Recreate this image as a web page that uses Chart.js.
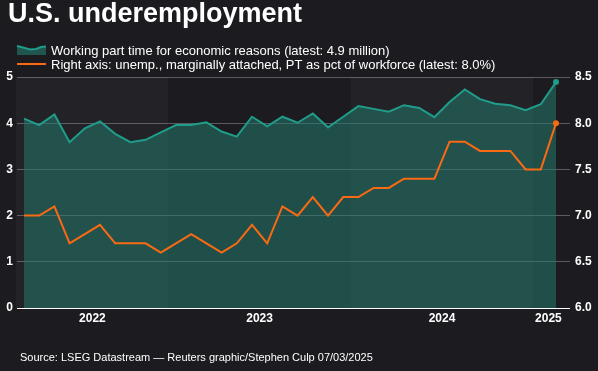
<!DOCTYPE html>
<html>
<head>
<meta charset="utf-8">
<script src="https://cdn.jsdelivr.net/npm/chart.js@4/dist/chart.umd.min.js"></script>
<style>
html,body{margin:0;padding:0;background:#1c1b20;}
#wrap{width:598px;height:371px;position:relative;}
canvas{display:block;}
</style>
</head>
<body>
<div id="wrap"><canvas id="c" width="598" height="371"></canvas></div>
<script>
// ---- data ----
const months = [
  'Mar 2022','Apr 2022','May 2022','Jun 2022','Jul 2022','Aug 2022','Sep 2022','Oct 2022','Nov 2022','Dec 2022',
  'Jan 2023','Feb 2023','Mar 2023','Apr 2023','May 2023','Jun 2023','Jul 2023','Aug 2023','Sep 2023','Oct 2023','Nov 2023','Dec 2023',
  'Jan 2024','Feb 2024','Mar 2024','Apr 2024','May 2024','Jun 2024','Jul 2024','Aug 2024','Sep 2024','Oct 2024','Nov 2024','Dec 2024',
  'Jan 2025','Feb 2025'
];
const partTimeMillions = [
  4.10,3.96,4.19,3.59,3.89,4.04,3.77,3.59,3.64,3.80,
  3.96,3.96,4.02,3.82,3.71,4.14,3.93,4.14,4.01,4.21,3.91,4.14,
  4.37,4.31,4.25,4.39,4.33,4.13,4.46,4.73,4.52,4.42,4.39,4.28,
  4.41,4.89
];
const underemploymentRate = [
  7.0,7.0,7.1,6.7,6.8,6.9,6.7,6.7,6.7,6.6,
  6.7,6.8,6.7,6.6,6.7,6.9,6.7,7.1,7.0,7.2,7.0,7.2,
  7.2,7.3,7.3,7.4,7.4,7.4,7.8,7.8,7.7,7.7,7.7,7.5,
  7.5,8.0
];
const yearLabels = ['2022','2023','2024','2025'];
const leftTicks = [0,1,2,3,4,5];
const rightTicks = [6.0,6.5,7.0,7.5,8.0,8.5];
const titleText = 'U.S. underemployment';
const seriesNames = [
  'Working part time for economic reasons (latest: 4.9 million)',
  'Right axis: unemp., marginally attached, PT as pct of workforce (latest: 8.0%)'
];
const sourceText = 'Source: LSEG Datastream \u2014 Reuters graphic/Stephen Culp 07/03/2025';

// ---- styling ----
const BG = '#1c1b20';
const BAND = '#232227';
const TEAL = '#1f9c8a';
const TEAL_FILL = 'rgba(36,122,110,0.55)';
const ORANGE = '#fa6a12';
const GRID = 'rgba(255,255,255,0.28)';
const FONT = "'Liberation Sans', Arial, sans-serif";

// year spans derived from month labels
const yearSpans = yearLabels.map(y => {
  const idx = months.map((m, i) => m.endsWith(y) ? i : -1).filter(i => i >= 0);
  return { year: y, first: idx[0], last: idx[idx.length - 1] };
});
const yearCenters = yearSpans.map(s => (s.first + s.last) / 2);

const bandPlugin = {
  id: 'bands',
  beforeDraw(chart) {
    const { ctx, chartArea, scales } = chart;
    ctx.save();
    ctx.fillStyle = BG;
    ctx.fillRect(0, 0, chart.width, chart.height);
    ctx.fillStyle = BAND;
    yearSpans.forEach((s, k) => {
      if (k % 2 === 0) {
        const x0 = Math.round(scales.x.getPixelForValue(s.first - 0.5));
        const x1 = Math.round(scales.x.getPixelForValue(Math.min(s.last + 0.5, months.length - 1)));
        ctx.fillRect(x0, chartArea.top, x1 - x0, chartArea.bottom - chartArea.top);
      }
    });
    ctx.restore();
  },
  afterDraw(chart) {
    const { ctx } = chart;
    ctx.save();
    // legend icons
    const boxes = chart.legend && chart.legend.legendHitBoxes;
    if (boxes && boxes.length === 2) {
      let b = boxes[0];
      let x0 = b.left + 8, yc = b.top + b.height / 2;
      const pts = [[0,-5],[6,-3.5],[13,-1.5],[19,-2],[24,-4],[29,-4.5]];
      ctx.beginPath();
      ctx.moveTo(x0, yc + 4);
      pts.forEach(p => ctx.lineTo(x0 + p[0], yc + p[1]));
      ctx.lineTo(x0 + 29, yc + 4);
      ctx.closePath();
      ctx.fillStyle = '#21564f';
      ctx.fill();
      ctx.beginPath();
      pts.forEach((p, i) => i ? ctx.lineTo(x0 + p[0], yc + p[1]) : ctx.moveTo(x0 + p[0], yc + p[1]));
      ctx.strokeStyle = TEAL; ctx.lineWidth = 2; ctx.stroke();
      b = boxes[1];
      x0 = b.left + 8; yc = b.top + b.height / 2;
      ctx.beginPath();
      ctx.moveTo(x0, yc - 1); ctx.lineTo(x0 + 29, yc - 1);
      ctx.strokeStyle = ORANGE; ctx.lineWidth = 2; ctx.stroke();
    }
    // source note
    ctx.font = '11px ' + FONT;
    ctx.fillStyle = '#ffffff';
    ctx.textBaseline = 'middle';
    ctx.textAlign = 'left';
    ctx.fillText(sourceText, 20, 358);
    ctx.restore();
  }
};

const lastPoint = c => (c.dataIndex === c.dataset.data.length - 1 ? 3 : 0);
// let the y-axis labels use the space left of the axis box
const noLabelClip = axis => { axis._computeLabelArea = () => undefined; };

new Chart(document.getElementById('c'), {
  type: 'line',
  data: {
    labels: months,
    datasets: [
      {
        label: seriesNames[0],
        data: partTimeMillions.map((v, i) => ({ x: i, y: v })),
        yAxisID: 'y',
        borderColor: TEAL,
        borderWidth: 2,
        backgroundColor: TEAL_FILL,
        fill: 'origin',
        tension: 0,
        pointRadius: lastPoint,
        pointHoverRadius: lastPoint,
        pointBackgroundColor: TEAL,
        pointBorderWidth: 0,
        order: 1,
        clip: false
      },
      {
        label: seriesNames[1],
        data: underemploymentRate.map((v, i) => ({ x: i, y: v })),
        yAxisID: 'y1',
        borderColor: ORANGE,
        borderWidth: 2,
        backgroundColor: ORANGE,
        fill: false,
        tension: 0,
        pointRadius: lastPoint,
        pointHoverRadius: lastPoint,
        pointBackgroundColor: ORANGE,
        pointBorderWidth: 0,
        order: 0,
        clip: false
      }
    ]
  },
  options: {
    responsive: false,
    animation: false,
    devicePixelRatio: 1,
    layout: { padding: { left: 8, right: 0, top: 0, bottom: 43 } },
    plugins: {
      tooltip: { enabled: false },
      title: {
        display: true,
        text: titleText,
        align: 'start',
        color: '#ffffff',
        font: { family: FONT, size: 27, weight: 'bold', lineHeight: 1 },
        padding: { top: 1.1, bottom: 15.4 }
      },
      legend: {
        display: true,
        position: 'top',
        align: 'start',
        maxHeight: 33.5,
        labels: {
          color: '#ffffff',
          font: { family: FONT, size: 13 },
          boxWidth: 35.5,
          boxHeight: 13,
          padding: 1,
          generateLabels: chart => chart.data.datasets.map((ds, i) => ({
            text: ds.label,
            fillStyle: 'rgba(0,0,0,0)',
            strokeStyle: 'rgba(0,0,0,0)',
            lineWidth: 0,
            fontColor: '#ffffff',
            hidden: false,
            datasetIndex: i
          }))
        }
      }
    },
    scales: {
      x: {
        type: 'linear',
        min: 0,
        max: months.length - 1,
        grid: { display: false, drawTicks: false },
        border: { display: false },
        afterBuildTicks: axis => { axis.ticks = yearCenters.map(v => ({ value: v })); },
        afterFit: axis => { axis.height = 20; },
        ticks: {
          color: '#ffffff',
          font: { family: FONT, size: 12, weight: 'bold' },
          padding: 3,
          maxRotation: 0,
          autoSkip: false,
          callback: (v, i) => yearLabels[i]
        }
      },
      y: {
        position: 'left',
        min: leftTicks[0],
        max: leftTicks[leftTicks.length - 1],
        afterBuildTicks: axis => { axis.ticks = leftTicks.map(v => ({ value: v })); },
        afterFit: axis => { axis.width = 16; noLabelClip(axis); },
        border: { display: false },
        grid: {
          color: c => (c.tick && c.tick.value === 0 ? '#ffffff' : GRID),
          lineWidth: 1,
          drawTicks: true,
          tickLength: 7
        },
        ticks: {
          color: '#ffffff',
          font: { family: FONT, size: 12, weight: 'bold' },
          padding: 4,
          callback: v => String(v)
        }
      },
      y1: {
        position: 'right',
        min: rightTicks[0],
        max: rightTicks[rightTicks.length - 1],
        afterBuildTicks: axis => { axis.ticks = rightTicks.map(v => ({ value: v })); },
        afterFit: axis => { axis.width = 42; noLabelClip(axis); },
        border: { display: false },
        grid: {
          drawOnChartArea: false,
          color: c => (c.tick && c.tick.value === 6 ? '#ffffff' : GRID),
          lineWidth: 1,
          drawTicks: true,
          tickLength: 14
        },
        ticks: {
          color: '#ffffff',
          font: { family: FONT, size: 12, weight: 'bold' },
          padding: 5,
          callback: v => Number(v).toFixed(1)
        }
      }
    }
  },
  plugins: [bandPlugin]
});
</script>
</body>
</html>
